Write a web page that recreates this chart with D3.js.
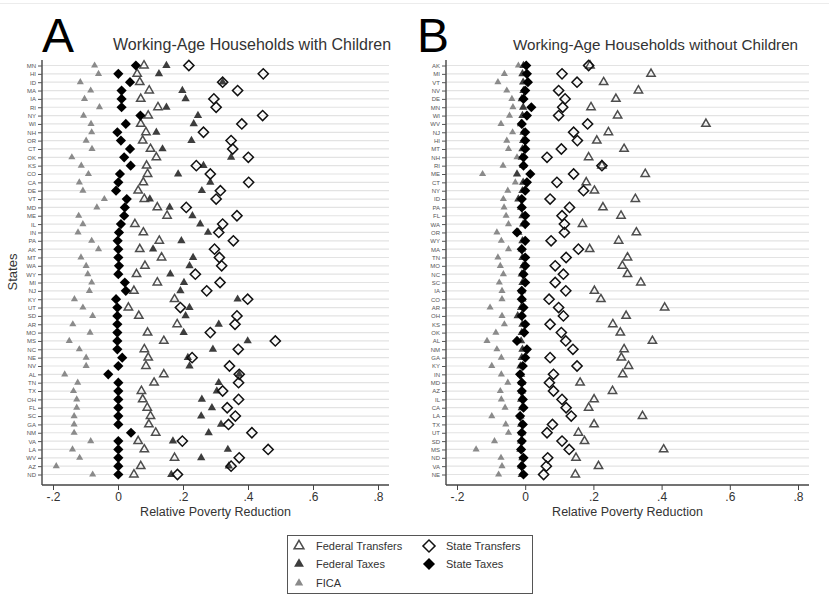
<!DOCTYPE html>
<html>
<head>
<meta charset="utf-8">
<script src="https://cdn.jsdelivr.net/npm/d3@7"></script>
<style>
  body { margin: 0; background: #fff; }
  svg { font-family: "Liberation Sans", Arial, sans-serif; }
</style>
</head>
<body>
<div class="chart-area"></div>
<script>
// two dot plots of relative poverty reduction by state

// ---- Data: panel A (with children) ----
const statesA = ["MN","HI","ID","MA","IA","RI","NY","WI","NH","OR","CT","OK","KS","CO","CA","DE","VT","MD","ME","IL",
  "IN","PA","AK","MT","WA","WY","MI","NJ","KY","UT","SD","AR","MO","MS","NC","NE","NV","AL","TN","TX",
  "OH","FL","SC","GA","NM","VA","LA","WV","AZ","ND"];
const ficaA = [-0.072,-0.060,-0.116,-0.084,-0.103,-0.057,-0.106,-0.083,-0.081,-0.098,-0.080,-0.142,-0.113,-0.091,-0.119,-0.108,-0.042,-0.065,-0.121,-0.108,
  -0.123,-0.081,-0.060,-0.114,-0.098,-0.093,-0.081,-0.088,-0.134,-0.108,-0.078,-0.139,-0.086,-0.150,-0.119,-0.098,-0.098,-0.164,-0.124,-0.137,
  -0.127,-0.127,-0.135,-0.135,-0.135,-0.084,-0.140,-0.118,-0.190,-0.078];
const fedTransfersA = [0.080,0.059,0.067,0.096,0.070,0.123,0.093,0.070,0.086,0.076,0.100,0.118,0.088,0.091,0.078,0.062,0.081,0.121,0.151,0.052,
  0.078,0.127,0.067,0.134,0.083,0.057,0.121,0.049,0.174,0.032,0.064,0.182,0.091,0.141,0.081,0.093,0.086,0.141,0.111,0.072,
  0.076,0.090,0.100,0.095,0.116,0.062,0.081,0.174,0.070,0.049];
const fedTaxesA = [0.149,0.126,0.322,0.198,0.208,0.149,0.246,0.233,0.118,0.226,0.137,0.348,0.263,0.185,0.284,0.258,0.098,0.159,0.229,0.253,
  0.277,0.195,0.108,0.231,0.220,0.161,0.203,0.192,0.368,0.220,0.208,0.310,0.202,0.399,0.292,0.215,0.220,0.373,0.310,0.304,
  0.258,0.289,0.256,0.317,0.279,0.169,0.338,0.256,0.341,0.164];
const stateTransfersA = [0.218,0.447,0.322,0.368,0.295,0.302,0.445,0.381,0.263,0.348,0.353,0.401,0.241,0.284,0.402,0.315,0.302,0.210,0.366,0.322,
  0.310,0.355,0.297,0.312,0.319,0.238,0.314,0.273,0.399,0.192,0.366,0.360,0.284,0.484,0.370,0.228,0.343,0.373,0.371,0.322,
  0.371,0.336,0.361,0.340,0.412,0.198,0.462,0.373,0.348,0.183];
const stateTaxesA = [0.055,0.001,0.037,0.011,0.011,0.011,0.069,0.024,-0.002,0.009,0.037,0.019,0.039,0.006,0.001,-0.006,0.027,0.021,0.019,0.009,
  0.003,-0.001,0.001,0.001,0.003,0.001,0.021,0.024,-0.006,-0.002,-0.002,-0.002,-0.002,-0.002,-0.002,0.013,0.001,-0.030,0.001,0.001,
  0.001,0.001,0.001,0.001,0.040,0.001,0.001,0.001,0.001,0.001];

// ---- Data: panel B (without children) ----
const statesB = ["AK","MI","VT","NV","DE","MN","WI","WV","NJ","HI","MT","NH","RI","ME","CT","NY","ID","PA","FL","WA",
  "OR","WY","MA","TN","MO","NC","SC","IA","CO","AR","OH","KS","OK","AL","NM","GA","KY","IN","MD","AZ",
  "IL","CA","LA","TX","UT","SD","MS","ND","VA","NE"];
const ficaB = [-0.020,-0.061,-0.080,-0.054,-0.039,-0.036,-0.046,-0.071,-0.037,-0.054,-0.049,-0.024,-0.065,-0.125,-0.029,-0.051,-0.064,-0.062,-0.056,-0.049,
  -0.083,-0.070,-0.049,-0.080,-0.073,-0.064,-0.076,-0.068,-0.068,-0.103,-0.068,-0.061,-0.086,-0.112,-0.083,-0.070,-0.098,-0.070,-0.051,-0.073,
  -0.070,-0.059,-0.098,-0.057,-0.049,-0.090,-0.144,-0.071,-0.068,-0.078];
const fedTransfersB = [0.190,0.369,0.230,0.332,0.266,0.193,0.271,0.530,0.244,0.210,0.290,0.186,0.225,0.352,0.179,0.203,0.323,0.228,0.281,0.168,
  0.326,0.274,0.189,0.300,0.285,0.300,0.339,0.203,0.222,0.409,0.296,0.257,0.279,0.373,0.290,0.282,0.303,0.286,0.161,0.256,
  0.202,0.186,0.344,0.202,0.156,0.174,0.406,0.149,0.215,0.147];
const fedTaxesB = [-0.005,-0.008,-0.006,-0.005,-0.010,-0.006,-0.008,-0.012,-0.005,-0.006,-0.008,-0.010,-0.006,-0.024,-0.006,-0.008,-0.020,-0.012,-0.008,-0.006,
  -0.020,-0.008,-0.010,-0.008,-0.006,-0.010,-0.008,-0.010,-0.008,-0.012,-0.022,-0.008,-0.010,-0.012,-0.008,-0.010,-0.014,-0.012,-0.010,-0.010,
  -0.012,-0.010,-0.014,-0.012,-0.010,-0.012,-0.014,-0.008,-0.012,-0.010];
const stateTransfersB = [0.186,0.108,0.152,0.098,0.117,0.110,0.098,0.183,0.142,0.153,0.106,0.064,0.225,0.142,0.093,0.171,0.073,0.130,0.108,0.115,
  0.115,0.076,0.156,0.120,0.088,0.112,0.088,0.119,0.070,0.098,0.112,0.073,0.106,0.119,0.140,0.073,0.152,0.083,0.071,0.083,
  0.108,0.120,0.135,0.080,0.064,0.108,0.129,0.066,0.062,0.054];
const stateTaxesB = [0.003,0.005,0.008,0.000,-0.005,0.018,0.005,-0.010,0.000,0.000,0.000,-0.005,-0.005,0.015,0.005,0.000,-0.010,-0.010,0.000,0.000,
  -0.024,0.000,-0.010,0.000,0.000,-0.005,0.000,-0.010,-0.010,-0.005,-0.010,0.000,-0.003,-0.024,0.005,0.000,-0.007,-0.015,-0.010,-0.010,
  -0.007,-0.005,-0.015,-0.007,-0.010,-0.010,-0.012,-0.005,-0.010,-0.005];

// ---- Axis ticks ----
const xTicks = [-0.2, 0, 0.2, 0.4, 0.6, 0.8];
const xTickLabels = ["-.2", "0", ".2", ".4", ".6", ".8"];

// ---- Sizes ----
const svgWidth = 829;
const svgHeight = 597;
const plotTop = 60;
const plotBottom = 485;

const svg = d3.select(".chart-area").append("svg")
    .attr("width", svgWidth)
    .attr("height", svgHeight);

// faint page line at the top
svg.append("line")
    .attr("x1", 0).attr("x2", svgWidth)
    .attr("y1", 3.5).attr("y2", 3.5)
    .attr("stroke", "#ececec");

// marker styles
const triSize = 30, ficaSize = 22, diaSize = 52;
const series = [
    { key: "fica", shape: d3.symbolTriangle, size: ficaSize, fill: "#8a8a8a", stroke: "none", label: "FICA" },
    { key: "fedTransfers", shape: d3.symbolTriangle, size: triSize, fill: "none", stroke: "#4d4d4d", label: "Federal Transfers" },
    { key: "fedTaxes", shape: d3.symbolTriangle, size: triSize, fill: "#3d3d3d", stroke: "none", label: "Federal Taxes" },
    { key: "stateTransfers", shape: d3.symbolSquare, size: diaSize, fill: "none", stroke: "#111", label: "State Transfers", rotate: 45 },
    { key: "stateTaxes", shape: d3.symbolSquare, size: diaSize, fill: "#000", stroke: "none", label: "State Taxes", rotate: 45 }
];

function drawPanel(opts) {
    const g = svg.append("g");

    const x = d3.scaleLinear()
        .domain([-0.2, 0.8])
        .range([opts.left + 11, opts.right - 11]);

    const y = d3.scalePoint()
        .domain(opts.states)
        .range([65.5, 474.5]);

    // gridlines
    g.selectAll("line.grid")
        .data(opts.states)
        .join("line")
        .attr("class", "grid")
        .attr("x1", opts.left).attr("x2", opts.right)
        .attr("y1", d => y(d)).attr("y2", d => y(d))
        .attr("stroke", "#e3e3e3")
        .attr("stroke-width", 1.2);

    // y axis
    const yAxis = g.append("g")
        .attr("transform", `translate(${opts.left},0)`)
        .call(d3.axisLeft(y).tickSize(4).tickPadding(2));
    yAxis.select(".domain").attr("d", `M0,${plotTop}V${plotBottom}`).attr("stroke", "#444").attr("stroke-width", 1.4);
    yAxis.selectAll(".tick line").attr("stroke", "#555");
    yAxis.selectAll(".tick text").style("font-size", "6px").attr("fill", "#555")
        .style("font-family", "Liberation Sans, Arial, sans-serif");

    // x axis
    const xAxis = g.append("g")
        .attr("transform", `translate(0,${plotBottom})`)
        .call(d3.axisBottom(x).tickValues(xTicks).tickSize(5).tickPadding(2)
            .tickFormat((d, i) => xTickLabels[i]));
    xAxis.select(".domain").attr("d", `M${opts.left},0H${opts.right}`).attr("stroke", "#444").attr("stroke-width", 1.4);
    xAxis.selectAll(".tick line").attr("stroke", "#444");
    xAxis.selectAll(".tick text").style("font-size", "12px").attr("fill", "#333")
        .style("font-family", "Liberation Sans, Arial, sans-serif");

    g.append("text")
        .attr("x", (x(-0.2) + x(0.8)) / 2)
        .attr("y", 516)
        .attr("text-anchor", "middle")
        .style("font-size", "12.5px")
        .attr("fill", "#333")
        .text("Relative Poverty Reduction");

    // panel letter + title
    g.append("text")
        .attr("x", opts.letterX).attr("y", 52)
        .style("font-size", "48px")
        .attr("fill", "#000")
        .text(opts.letter);
    g.append("text")
        .attr("x", opts.titleX).attr("y", 50)
        .style("font-size", opts.titleSize)
        .attr("fill", "#333")
        .text(opts.title);

    // markers
    series.forEach(s => {
        const vals = opts.data[s.key];
        g.selectAll(`path.${s.key}`)
            .data(opts.states)
            .join("path")
            .attr("class", s.key)
            .attr("d", d3.symbol().type(s.shape).size(s.size))
            .attr("transform", (d, i) => `translate(${x(vals[i])},${y(d)})` + (s.rotate ? ` rotate(${s.rotate})` : ""))
            .attr("fill", s.fill)
            .attr("stroke", s.stroke)
            .attr("stroke-width", 1.5);
    });
}

drawPanel({
    left: 42, right: 389, states: statesA,
    letter: "A", letterX: 42, title: "Working-Age Households with Children", titleX: 113, titleSize: "16px",
    data: { fica: ficaA, fedTransfers: fedTransfersA, fedTaxes: fedTaxesA, stateTransfers: stateTransfersA, stateTaxes: stateTaxesA }
});

drawPanel({
    left: 446, right: 809, states: statesB,
    letter: "B", letterX: 417, title: "Working-Age Households without Children", titleX: 513, titleSize: "15.2px",
    data: { fica: ficaB, fedTransfers: fedTransfersB, fedTaxes: fedTaxesB, stateTransfers: stateTransfersB, stateTaxes: stateTaxesB }
});

// "States" y label
svg.append("text")
    .attr("transform", "translate(17,272) rotate(-90)")
    .attr("text-anchor", "middle")
    .style("font-size", "13px")
    .attr("fill", "#333")
    .text("States");

// ---- Legend ----
const legend = svg.append("g").attr("class", "legend");
legend.append("rect")
    .attr("x", 287.5).attr("y", 535.5)
    .attr("width", 245).attr("height", 58)
    .attr("fill", "#fff")
    .attr("stroke", "#555")
    .attr("stroke-width", 1);

const legendItems = [
    { s: series[1], x: 299, y: 546 },
    { s: series[3], x: 429, y: 546 },
    { s: series[2], x: 299, y: 564 },
    { s: series[4], x: 429, y: 564 },
    { s: series[0], x: 299, y: 583 }
];

legendItems.forEach(it => {
    legend.append("path")
        .attr("d", d3.symbol().type(it.s.shape).size(it.s.size * 1.4)())
        .attr("transform", `translate(${it.x},${it.y})` + (it.s.rotate ? " rotate(45)" : ""))
        .attr("fill", it.s.fill)
        .attr("stroke", it.s.stroke)
        .attr("stroke-width", 1.5);
    legend.append("text")
        .attr("x", it.x + 17)
        .attr("y", it.y + 4)
        .style("font-size", "11px")
        .attr("fill", "#333")
        .text(it.s.label);
});
</script>
</body>
</html>
